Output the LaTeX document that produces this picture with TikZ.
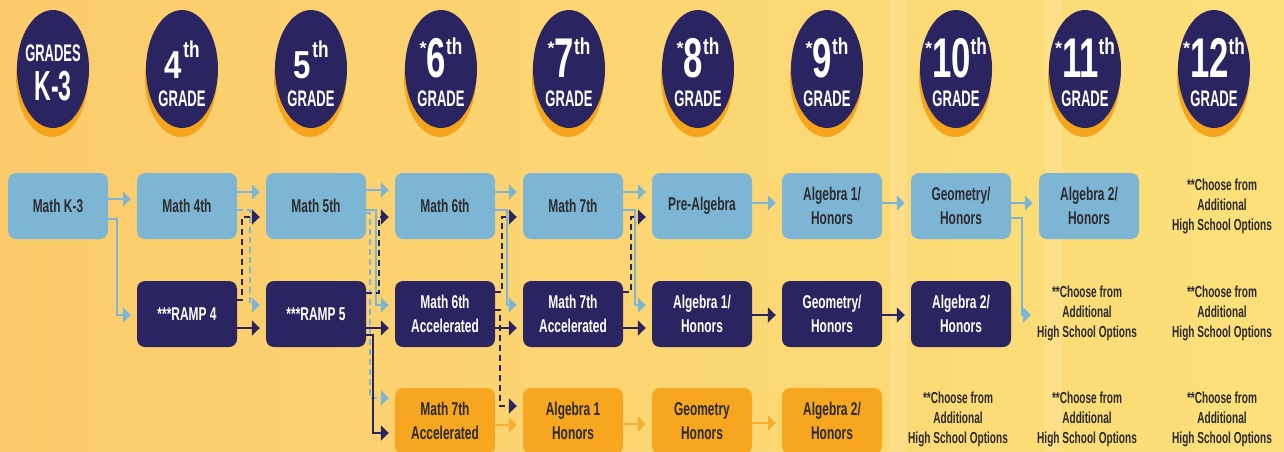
\documentclass[tikz,border=0pt]{standalone}
\usepackage{graphicx}
\usepackage{fontspec}
\setmainfont{Liberation Sans}
\newfontfamily\fBox[FakeStretch=0.645]{Liberation Sans}
\newfontfamily\fCh[FakeStretch=0.63]{Liberation Sans}
\usetikzlibrary{arrows.meta,shapes.geometric,calc}
\definecolor{navy}{HTML}{2A2461}
\definecolor{lblue}{HTML}{7DB6D4}
\definecolor{orng}{HTML}{F6A61F}
\definecolor{oarrow}{HTML}{F7AE30}
\definecolor{shad}{HTML}{F4A51C}
\definecolor{darktxt}{HTML}{2D2B30}
\definecolor{bgL}{HTML}{FCCB6B}
\definecolor{bgM}{HTML}{FCD973}
\definecolor{bgR}{HTML}{FBE07A}
\newcommand{\gradelabel}[3]{%
  \node[lbl,anchor=base] (#1n) at (#2,77) {\raisebox{23pt}{\fontsize{18}{18}\selectfont *}\scalebox{0.62}[1]{\fontsize{56}{56}\selectfont #3}\raisebox{23pt}{\scalebox{0.75}[1]{\fontsize{23}{23}\selectfont th}}};
  \node[lbl,anchor=base] (#1g) at (#2,106) {\scalebox{0.58}[1]{\fontsize{22.5}{22.5}\selectfont GRADE}};}
\begin{document}
\begin{tikzpicture}[x=1pt,y=-1pt,
 box/.style={rectangle, rounded corners=8pt, minimum width=100pt, minimum height=66pt, inner sep=0pt, align=center, font=\fBox\bfseries\fontsize{18.5}{23.5}\selectfont},
 lbbox/.style={box, fill=lblue, text=darktxt},
 nvbox/.style={box, fill=navy, text=white},
 orbox/.style={box, fill=orng, text=darktxt},
 choose/.style={align=center, inner sep=0pt, text=darktxt, font=\fCh\bfseries\fontsize{16}{20}\selectfont},
 gc/.style={ellipse, minimum width=72pt, minimum height=118pt, inner sep=0pt, fill=navy},
 gs/.style={ellipse, minimum width=72pt, minimum height=118pt, inner sep=0pt, fill=shad},
 lbl/.style={text=white, inner sep=0pt, font=\bfseries},
 tip/.style={-{Triangle[length=8pt,width=15pt]}, shorten >=6pt},
 lbs/.style={line width=2.6pt, lblue, tip},
 lbd/.style={line width=2.2pt, lblue, dash pattern=on 6pt off 4pt, tip},
 nvs/.style={line width=2.6pt, navy, tip},
 nvd/.style={line width=2.2pt, navy, dash pattern=on 6pt off 4pt, tip},
 ors/.style={line width=2.6pt, oarrow, tip},
]
\useasboundingbox (0,0) rectangle (1284,451);
\clip (0,0) rectangle (1284,451);
\shade[left color=bgL, middle color=bgM, right color=bgR] (0,0) rectangle (1284,451);
\fill[white, opacity=0.12] (890,0) rectangle (907,451);
\fill[white, opacity=0.12] (1045,0) rectangle (1062,451);

% grade circles
\foreach \cx/\nm in {53/ck3, 182/c4, 311/c5, 441/c6, 569/c7, 698/c8, 827/c9, 956/c10, 1085/c11, 1214/c12}{
  \node[gs] (\nm s) at (\cx-1,78) {};
  \node[gc] (\nm) at (\cx,69) {};
}
\node[lbl,anchor=base] (k3a) at (53,61) {\scalebox{0.54}[1]{\fontsize{24}{24}\selectfont GRADES}};
\node[lbl,anchor=base] (k3b) at (53,100) {\scalebox{0.55}[1]{\fontsize{42}{42}\selectfont K-3}};
\node[lbl,anchor=base] (l4n) at (182,78) {\scalebox{0.8}[1]{\fontsize{39}{39}\selectfont 4}\hspace{1.5pt}\raisebox{21pt}{\scalebox{0.75}[1]{\fontsize{23}{23}\selectfont th}}};
\node[lbl,anchor=base] (l4g) at (182,106) {\scalebox{0.58}[1]{\fontsize{22.5}{22.5}\selectfont GRADE}};
\node[lbl,anchor=base] (l5n) at (311,78) {\scalebox{0.8}[1]{\fontsize{39}{39}\selectfont 5}\hspace{1.5pt}\raisebox{21pt}{\scalebox{0.75}[1]{\fontsize{23}{23}\selectfont th}}};
\node[lbl,anchor=base] (l5g) at (311,106) {\scalebox{0.58}[1]{\fontsize{22.5}{22.5}\selectfont GRADE}};
\gradelabel{l6}{441}{6}
\gradelabel{l7}{569}{7}
\gradelabel{l8}{698}{8}
\gradelabel{l9}{827}{9}
\gradelabel{l10}{956}{10}
\gradelabel{l11}{1085}{11}
\gradelabel{l12}{1214}{12}

% row 1
\node[lbbox] (k3) at (58,206) {Math K-3};
\node[lbbox] (m4) at (187,206) {Math 4th};
\node[lbbox] (m5) at (316,206) {Math 5th};
\node[lbbox] (m6) at (445,206) {Math 6th};
\node[lbbox] (m7) at (573,206) {Math 7th};
\node[lbbox] (pre) at (702,206) {Pre-Algebra};
\node[lbbox] (a1) at (832,206) {Algebra 1/\\Honors};
\node[lbbox] (geo) at (961,206) {Geometry/\\Honors};
\node[lbbox] (a2) at (1089,206) {Algebra 2/\\Honors};
\node[choose] (ch1) at (1222,206) {**Choose from\\Additional\\High School Options};
% row 2
\node[nvbox] (r4) at (187,314) {***RAMP 4};
\node[nvbox] (r5) at (316,314) {***RAMP 5};
\node[nvbox] (m6a) at (445,314) {Math 6th\\Accelerated};
\node[nvbox] (m7a) at (573,314) {Math 7th\\Accelerated};
\node[nvbox] (a1n) at (702,314) {Algebra 1/\\Honors};
\node[nvbox] (geon) at (832,314) {Geometry/\\Honors};
\node[nvbox] (a2n) at (961,314) {Algebra 2/\\Honors};
\node[choose] (ch2) at (1087,313) {**Choose from\\Additional\\High School Options};
\node[choose] (ch3) at (1222,313) {**Choose from\\Additional\\High School Options};
% row 3
\node[orbox] (m7o) at (445,421) {Math 7th\\Accelerated};
\node[orbox] (a1o) at (573,421) {Algebra 1\\Honors};
\node[orbox] (geoo) at (702,421) {Geometry\\Honors};
\node[orbox] (a2o) at (832,421) {Algebra 2/\\Honors};
\node[choose] (ch4) at (958,419) {**Choose from\\Additional\\High School Options};
\node[choose] (ch5) at (1087,419) {**Choose from\\Additional\\High School Options};
\node[choose] (ch6) at (1222,419) {**Choose from\\Additional\\High School Options};

% gap 1
\draw[lbs] (k3.east|-0,199) -- (m4.west|-0,199);
\draw[lbs] (k3.east|-0,219) -| (117,315) -- (r4.west|-0,315);
% gap 2
\draw[lbs] (m4.east|-0,192) -- (m5.west|-0,192);
\draw[lbd] (m4.east|-0,210) -| (250,305) -- (r5.west|-0,305);
\draw[nvd] (r4.east|-0,300) -| (242,217) -- (m5.west|-0,217);
\draw[nvs] (r4.east|-0,328) -- (r5.west|-0,328);
% gap 3
\draw[lbs] (m5.east|-0,190) -- (m6.west|-0,190);
\draw[lbd] (m5.east|-0,213) -| (370,398) -- (m7o.west|-0,398);
\draw[lbs] (m5.east|-0,210) -| (376,305) -- (m6a.west|-0,305);
\draw[nvd] (r5.east|-0,293) -| (379,217) -- (m6.west|-0,217);
\draw[nvs] (r5.east|-0,328) -- (m6a.west|-0,328);
\draw[nvs] (r5.east|-0,335) -| (373,433) -- (m7o.west|-0,433);
% gap 4
\draw[lbs] (m6.east|-0,192) -- (m7.west|-0,192);
\draw[lbs] (m6.east|-0,210) -| (507,305) -- (m7a.west|-0,305);
\draw[nvd] (m6a.east|-0,292) -| (502,217) -- (m7.west|-0,217);
\draw[nvs] (m6a.east|-0,328) -- (m7a.west|-0,328);
\draw[nvd] (m6a.east|-0,310) -| (500,406) -- (a1o.west|-0,406);
\draw[ors] (m7o.east|-0,425) -- (a1o.west|-0,425);
% gap 5
\draw[lbs] (m7.east|-0,192) -- (pre.west|-0,192);
\draw[lbs] (m7.east|-0,210) -| (635,305) -- (a1n.west|-0,305);
\draw[nvd] (m7a.east|-0,292) -| (631,217) -- (pre.west|-0,217);
\draw[nvs] (m7a.east|-0,328) -- (a1n.west|-0,328);
\draw[ors] (a1o.east|-0,424) -- (geoo.west|-0,424);
% gap 6
\draw[lbs] (pre.east|-0,203) -- (a1.west|-0,203);
\draw[nvs] (a1n.east|-0,315) -- (geon.west|-0,315);
\draw[ors] (geoo.east|-0,423) -- (a2o.west|-0,423);
% gap 7
\draw[lbs] (a1.east|-0,203) -- (geo.west|-0,203);
\draw[nvs] (geon.east|-0,315) -- (a2n.west|-0,315);
% gap 8
\draw[lbs] (geo.east|-0,203) -- (a2.west|-0,203);
\draw[lbs] (geo.east|-0,218) -| (1022,315) -- (ch2.west|-0,315);
\end{tikzpicture}
\end{document}
